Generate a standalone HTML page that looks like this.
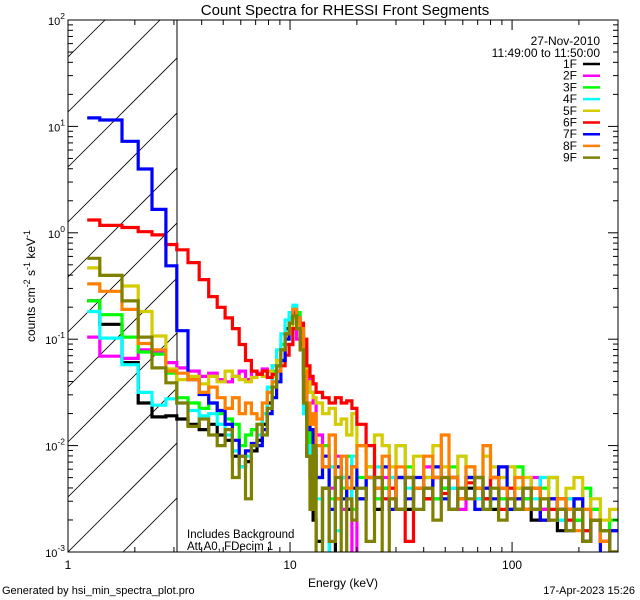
<!DOCTYPE html>
<html><head><meta charset="utf-8"><style>
html,body{margin:0;background:#fff;width:640px;height:600px;overflow:hidden;}
svg{display:block;font-family:"Liberation Sans","DejaVu Sans",sans-serif;}
</style></head><body>
<svg id="chart" width="640" height="600" viewBox="0 0 640 600" xmlns="http://www.w3.org/2000/svg" overflow="hidden">
<rect width="640" height="600" fill="#fff"/>
<text x="345" y="15" font-size="15" text-anchor="middle">Count Spectra for RHESSI Front Segments</text>
<defs><clipPath id="pc"><rect x="68" y="20" width="550" height="532"/></clipPath>
<clipPath id="hc"><rect x="68" y="20" width="109" height="532"/></clipPath></defs>
<g id="hatch" clip-path="url(#hc)"></g>
<line x1="177" y1="20" x2="177" y2="552" stroke="#000"/>
<g id="series" clip-path="url(#pc)"></g>
<rect x="68" y="20" width="550" height="532" fill="none" stroke="#000"/>
<g id="axes"></g>
<text x="343" y="587" font-size="12" text-anchor="middle">Energy (keV)</text>
<text transform="translate(35,286) rotate(-90)" font-size="12" text-anchor="middle">counts cm<tspan dy="-5" font-size="9">-2</tspan><tspan dy="5"> s</tspan><tspan dy="-5" font-size="9">-1</tspan><tspan dy="5"> keV</tspan><tspan dy="-5" font-size="9">-1</tspan></text>
<text x="600" y="45" font-size="12" text-anchor="end">27-Nov-2010</text>
<text x="600" y="57" font-size="12" text-anchor="end">11:49:00 to 11:50:00</text>
<g id="legend"></g>
<text x="187" y="538" font-size="11.5">Includes Background</text>
<text x="187" y="550" font-size="11.5">Att A0, FDecim 1</text>
<text x="2" y="594" font-size="11">Generated by hsi_min_spectra_plot.pro</text>
<text x="635" y="594" font-size="11" text-anchor="end">17-Apr-2023 15:26</text>
</svg>
<script>
const energyEdges=[1.22,1.39,1.75,2.07,2.39,2.76,3.09,3.47,3.9,4.3,4.7,5.1,5.5,5.9,6.3,6.7,7.1,7.5,7.9,8.3,8.7,9.1,9.5,9.9,10.3,10.7,11.1,11.5,11.9,12.3,12.7,13.1,14,15,16,17,18,19,20,22,24,26,28,30,33,36,40,44,48,52,57,62,68,74,80,87,95,103,112,122,134,146,160,175,190,208,226,250,275,300];
const seriesNames=["1F","2F","3F","4F","5F","6F","7F","8F","9F"];
const seriesColors=["#000000","#ff00ff","#00ff00","#00ffff","#d4cc00","#ff0000","#0000ff","#ff8000","#808000"];
const log1F=[-0.64,-0.86,-1.22,-1.6,-1.73,-1.72,-1.75,-1.8,-1.85,-1.8,-1.9,-1.95,-2.1,-2.2,-2.15,-2.05,-1.95,-1.8,-1.6,-1.4,-1.25,-1.1,-0.9,-0.8,-0.75,-0.85,-1.1,-1.55,-2.1,-2.3,-2.7,-2.9,-2.4,-3.2,-2.5,-2.3,-2.6,-2.4,-2.5,-2.3,-2.6,-2.4,-2.5,-2.3,-2.6,-2.4,-2.5,-2.3,-2.4,-2.6,-2.5,-2.4,-2.3,-2.5,-2.6,-2.4,-2.5,-2.6,-2.5,-2.7,-2.6,-2.5,-2.8,-2.6,-2.7,-2.9,-2.7,-2.8,-3.0];
const log2F=[-0.98,-1.16,-1.18,-1.1,-1.12,-1.22,-1.27,-1.3,-1.35,-1.32,-1.38,-1.4,-1.35,-1.3,-1.38,-1.3,-1.32,-1.28,-1.3,-1.25,-1.3,-1.2,-1.05,-1.05,-0.9,-1.0,-0.95,-1.1,-1.35,-1.5,-1.6,-1.9,-2.2,-2.4,-2.1,-2.6,-2.3,-3.2,-2.4,-2.2,-2.5,-2.3,-2.4,-2.6,-2.3,-2.4,-2.2,-2.5,-2.3,-2.4,-2.6,-2.3,-2.5,-2.4,-2.3,-2.5,-2.6,-2.4,-2.5,-2.3,-2.6,-2.5,-2.7,-2.6,-2.5,-2.8,-2.6,-2.9,-2.8];
const log3F=[-0.64,-0.77,-0.98,-1.12,-1.14,-1.32,-1.55,-1.6,-1.65,-1.6,-1.7,-1.75,-1.8,-2.0,-1.9,-1.85,-1.8,-1.7,-1.5,-1.3,-1.2,-1.05,-0.95,-0.8,-0.7,-0.75,-0.9,-1.4,-1.8,-2.0,-2.1,-2.3,-2.0,-2.5,-2.2,-2.4,-2.1,-2.6,-2.3,-2.2,-2.5,-2.4,-2.3,-2.6,-2.2,-2.4,-2.3,-2.5,-2.4,-2.2,-2.5,-2.3,-2.4,-2.6,-2.3,-2.5,-2.4,-2.2,-2.5,-2.6,-2.4,-2.3,-2.6,-2.5,-2.7,-2.4,-2.6,-2.8,-2.7];
const log4F=[-0.74,-0.99,-1.24,-1.5,-1.62,-1.56,-1.6,-1.67,-1.72,-1.7,-1.8,-1.9,-2.05,-2.2,-2.1,-2.0,-1.9,-1.7,-1.45,-1.25,-1.1,-0.95,-0.82,-0.75,-0.68,-0.8,-1.0,-1.7,-2.0,-2.2,-2.3,-2.5,-3.2,-2.2,-2.8,-2.3,-2.5,-2.1,-2.4,-2.3,-2.2,-2.5,-2.3,-2.0,-2.4,-2.6,-2.3,-2.2,-2.5,-2.4,-2.1,-2.3,-2.5,-2.6,-2.4,-2.3,-2.5,-2.4,-2.6,-2.5,-2.3,-2.6,-2.7,-2.5,-2.6,-2.8,-2.7,-2.9,-2.8];
const log5F=[-0.33,-0.4,-0.5,-0.74,-0.97,-1.28,-1.38,-1.35,-1.42,-1.35,-1.4,-1.3,-1.35,-1.38,-1.4,-1.36,-1.33,-1.35,-1.3,-1.35,-1.2,-1.1,-0.95,-0.9,-0.8,-0.85,-0.95,-1.2,-1.4,-1.5,-1.55,-1.6,-1.7,-1.65,-1.8,-1.75,-1.9,-1.7,-2.0,-2.2,-1.9,-2.0,-2.2,-2.0,-2.3,-2.1,-2.3,-2.0,-2.2,-2.3,-2.1,-2.2,-2.4,-2.1,-2.2,-2.3,-2.2,-2.4,-2.3,-2.4,-2.5,-2.3,-2.5,-2.4,-2.3,-2.6,-2.5,-2.7,-2.6];
const log6F=[0.12,0.07,0.05,0.01,-0.02,-0.11,-0.16,-0.28,-0.44,-0.6,-0.7,-0.8,-0.9,-1.05,-1.2,-1.3,-1.33,-1.3,-1.36,-1.33,-1.3,-1.25,-1.15,-1.05,-0.9,-0.9,-0.85,-1.0,-1.25,-1.35,-1.42,-1.5,-1.55,-1.6,-1.55,-1.6,-1.58,-1.65,-1.8,-2.0,-2.3,-2.5,-2.4,-2.6,-2.9,-2.4,-2.5,-2.3,-2.45,-2.3,-2.5,-2.35,-2.4,-2.5,-2.3,-2.6,-2.4,-2.5,-2.6,-2.4,-2.7,-2.6,-2.5,-2.7,-2.6,-2.8,-2.7,-2.9,-2.8];
const log7F=[1.08,1.06,0.86,0.6,0.22,-0.31,-0.92,-1.38,-1.52,-1.6,-1.67,-1.8,-1.95,-2.1,-2.05,-1.98,-2.0,-1.85,-1.7,-1.55,-1.4,-1.2,-1.0,-0.85,-0.75,-0.8,-1.05,-1.35,-1.75,-1.85,-2.05,-2.3,-2.1,-2.6,-2.2,-2.5,-2.3,-2.2,-2.5,-2.3,-2.4,-2.2,-2.6,-2.3,-2.5,-2.3,-2.4,-2.2,-2.5,-2.3,-2.4,-2.3,-2.6,-2.4,-2.5,-2.2,-2.6,-2.5,-2.4,-2.6,-2.7,-2.5,-2.6,-2.8,-2.5,-2.9,-2.7,-3.2,-2.8];
const log8F=[-0.48,-0.55,-0.72,-1.04,-1.1,-1.3,-1.32,-1.38,-1.5,-1.45,-1.55,-1.65,-1.55,-1.7,-1.6,-1.7,-1.75,-1.6,-1.5,-1.4,-1.3,-1.1,-0.95,-0.85,-0.72,-0.8,-0.9,-1.3,-1.6,-1.8,-1.7,-2.0,-2.2,-1.9,-2.5,-2.1,-2.4,-2.2,-2.0,-2.3,-2.4,-2.1,-2.5,-2.2,-2.3,-2.4,-2.1,-2.3,-1.9,-2.3,-2.5,-2.2,-2.4,-2.0,-2.3,-2.4,-2.5,-2.3,-2.6,-2.4,-2.5,-2.7,-2.5,-2.6,-2.8,-2.6,-2.7,-2.9,-3.0];
const log9F=[-0.24,-0.4,-0.64,-0.98,-1.27,-1.41,-1.6,-1.82,-1.75,-1.9,-2.0,-1.85,-2.3,-2.1,-2.5,-2.0,-1.8,-1.9,-1.65,-1.45,-1.25,-1.1,-0.95,-0.85,-0.78,-0.9,-1.1,-1.6,-2.1,-2.6,-2.0,-3.2,-2.4,-2.9,-2.3,-3.2,-2.5,-2.7,-2.4,-2.9,-2.3,-3.2,-2.5,-2.6,-2.3,-2.6,-2.4,-2.7,-2.3,-2.6,-2.4,-2.5,-2.3,-2.6,-2.4,-2.7,-2.5,-2.6,-2.4,-2.6,-2.5,-2.7,-2.6,-2.8,-2.6,-2.9,-2.7,-2.8,-3.0];
const seriesLogValues=[log1F,log2F,log3F,log4F,log5F,log6F,log7F,log8F,log9F];
const xTickValues=[1,10,100];
const xTickLabels=["1","10","100"];
const yTickExponents=[-3,-2,-1,0,1,2];

const NS="http://www.w3.org/2000/svg";
const X0=68,X1=618,Y0=20,Y1=552,XMIN=0,XMAX=Math.log10(300),YMIN=-3,YMAX=2;
function xs(e){return X0+(Math.log10(e)-XMIN)/(XMAX-XMIN)*(X1-X0);}
function ysLog(l){return Y1-(l-YMIN)/(YMAX-YMIN)*(Y1-Y0);}
function mk(t,a,p){const el=document.createElementNS(NS,t);for(const k in a)el.setAttribute(k,a[k]);(p||document.getElementById('chart')).appendChild(el);return el;}

const hg=document.getElementById('hatch');
for(let i=-3;i<12;i++){const b=552-i*55;
 const l=mk('line',{x1:68,y1:b,x2:180,y2:b-112,stroke:'#000','stroke-width':0.8},hg);
 
 }

const sg=document.getElementById('series');
seriesLogValues.forEach((vals,si)=>{
 let d='';
 vals.forEach((v,i)=>{if(i+1>=energyEdges.length)return;
  const xa=xs(energyEdges[i]),xb=xs(energyEdges[i+1]),y=Math.min(ysLog(v),556);
  d+=(i===0?'M':'L')+xa.toFixed(1)+','+y.toFixed(1)+'L'+xb.toFixed(1)+','+y.toFixed(1);});
 const p=mk('path',{d:d,fill:'none',stroke:seriesColors[si],'stroke-width':3.2,'stroke-linejoin':'miter'},sg);
 
 
});

const ag=document.getElementById('axes');
for(let dec=0;dec<3;dec++){for(let m=1;m<10;m++){const e=Math.pow(10,dec)*m;if(e>300)break;const x=xs(e);const len=m===1?10:5;
 const t1=mk('line',{x1:x,y1:Y1,x2:x,y2:Y1-len,stroke:'#000'},ag);
 
 
 const t2=mk('line',{x1:x,y1:Y0,x2:x,y2:Y0+len,stroke:'#000'},ag);
 
 }}
xTickValues.forEach((v,i)=>{const t=mk('text',{x:xs(v),y:Y1+17,'font-size':12,'text-anchor':'middle'},ag);t.textContent=xTickLabels[i];
 
 });
yTickExponents.forEach(ex=>{const y=ysLog(ex);
 [[X0,X0+10],[X1,X1-10]].forEach(a=>{const l=mk('line',{x1:a[0],y1:y,x2:a[1],y2:y,stroke:'#000'},ag);
  
  });
 if(ex<YMAX){for(let m=2;m<10;m++){const ym=ysLog(ex+Math.log10(m));
  [[X0,X0+5],[X1,X1-5]].forEach(a=>{const l=mk('line',{x1:a[0],y1:ym,x2:a[1],y2:ym,stroke:'#000'},ag);
   
   });}}
 const t=mk('text',{x:X0-3,y:y+5,'font-size':11,'text-anchor':'end'},ag);
 
 
 t.innerHTML='10<tspan dy="-6" font-size="8.5">'+ex+'</tspan>';
});

const lg=document.getElementById('legend');
seriesNames.forEach((n,i)=>{const y=64+i*11.7;
 const t=mk('text',{x:577,y:y+4,'font-size':12,'text-anchor':'end'},lg);t.textContent=n;
 
 
 const l=mk('line',{x1:583,y1:y,x2:600,y2:y,stroke:seriesColors[i],'stroke-width':2.5},lg);
 
 });
</script>
</body></html>
